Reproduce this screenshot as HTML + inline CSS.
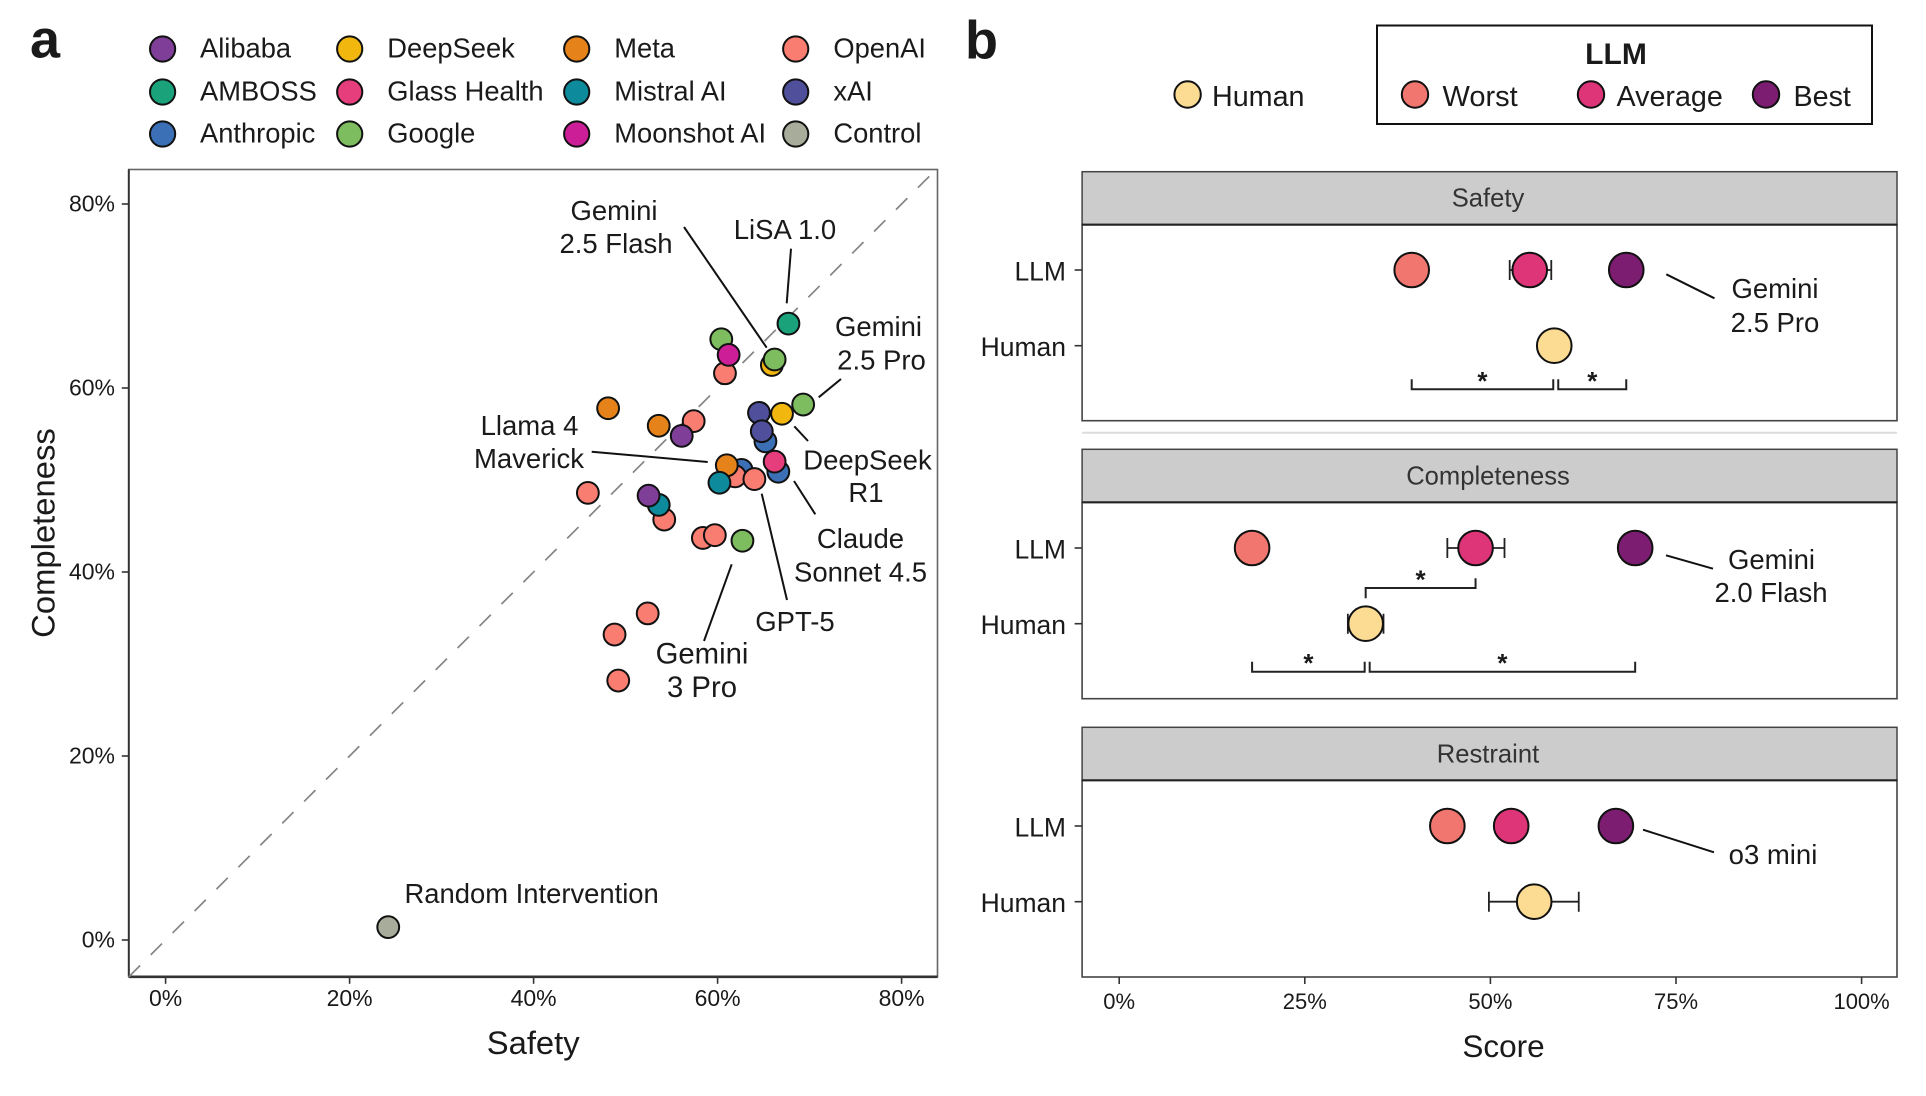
<!DOCTYPE html>
<html lang="en">
<head>
<meta charset="utf-8">
<title>LLM safety and completeness scatter with score comparison</title>
<style>
  html, body { margin: 0; padding: 0; background: #fff; }
  svg { display: block; }
  text { font-family: "Liberation Sans", Arial, sans-serif; fill: #1a1a1a; }
  .lab { font-size: 27.5px; text-anchor: middle; }
  .leg { font-size: 27.3px; }
  .leader { stroke: #111; stroke-width: 2; fill: none; }
</style>
</head>
<body>
<svg id="fig" xmlns="http://www.w3.org/2000/svg" width="1926" height="1096" viewBox="0 0 1926 1096">
  <rect x="0" y="0" width="1926" height="1096" fill="#fff"/>
  <text x="30" y="57.5" font-size="54" font-weight="700">a</text>
  <text x="965" y="58.5" font-size="54" font-weight="700">b</text>

  <g id="legend-a"></g>

  <g id="panel-a"></g>

  <g>
    <line class="leader" x1="684" y1="227" x2="766.7" y2="347.7"/>
    <line class="leader" x1="791" y1="248.7" x2="786.7" y2="303.3"/>
    <line class="leader" x1="841" y1="379" x2="818.7" y2="397.3"/>
    <line class="leader" x1="794.3" y1="426.3" x2="808" y2="441"/>
    <line class="leader" x1="591.7" y1="451.7" x2="707.7" y2="462"/>
    <line class="leader" x1="761.7" y1="493.7" x2="787" y2="600"/>
    <line class="leader" x1="794" y1="481" x2="815.3" y2="514.3"/>
    <line class="leader" x1="731.7" y1="564.3" x2="704" y2="641"/>
    <text class="lab"><tspan x="614" y="220">Gemini</tspan><tspan x="616" y="253">2.5 Flash</tspan></text>
    <text class="lab" x="785" y="239">LiSA 1.0</text>
    <text class="lab"><tspan x="878.5" y="336">Gemini</tspan><tspan x="881.5" y="369.5">2.5 Pro</tspan></text>
    <text class="lab"><tspan x="867.5" y="469.5">DeepSeek</tspan><tspan x="866" y="502">R1</tspan></text>
    <text class="lab"><tspan x="529.5" y="435">Llama 4</tspan><tspan x="529" y="468">Maverick</tspan></text>
    <text class="lab"><tspan x="860.5" y="548">Claude</tspan><tspan x="860.5" y="581.5">Sonnet 4.5</tspan></text>
    <text class="lab" x="795" y="631">GPT-5</text>
    <text class="lab" style="font-size:29.3px"><tspan x="702" y="663.5">Gemini</tspan><tspan x="702" y="697">3 Pro</tspan></text>
    <text class="lab" style="text-anchor:start;font-size:27.4px" x="404.5" y="903">Random Intervention</text>
  </g>

  <g id="legend-b">
    <rect x="1377" y="25.5" width="495" height="98.5" fill="#fff" stroke="#111" stroke-width="2"/>
    <text x="1616" y="64" font-size="30" font-weight="700" text-anchor="middle">LLM</text>
    <circle cx="1187.6" cy="94.5" r="13.2" fill="#fcdb93" stroke="#111" stroke-width="2"/>
    <text x="1212" y="106" font-size="28.7">Human</text>
    <circle cx="1415" cy="94.5" r="13.2" fill="#f1766f" stroke="#111" stroke-width="2"/>
    <text x="1442.5" y="106" font-size="29">Worst</text>
    <circle cx="1591" cy="94.5" r="13.2" fill="#dd3578" stroke="#111" stroke-width="2"/>
    <text x="1616.5" y="106" font-size="28.7">Average</text>
    <circle cx="1766" cy="94.5" r="13.2" fill="#7d1d71" stroke="#111" stroke-width="2"/>
    <text x="1793.5" y="106" font-size="28.7">Best</text>
  </g>

  <g id="panel-b"></g>

  <g>
    <line class="leader" x1="1666.3" y1="274.3" x2="1714.5" y2="298.3"/>
    <text class="lab"><tspan x="1775" y="298">Gemini</tspan><tspan x="1775" y="332">2.5 Pro</tspan></text>
    <line class="leader" x1="1666" y1="555.3" x2="1713" y2="568.7"/>
    <text class="lab"><tspan x="1771.5" y="569">Gemini</tspan><tspan x="1771" y="602">2.0 Flash</tspan></text>
    <line class="leader" x1="1643" y1="829.7" x2="1714" y2="852.3"/>
    <text class="lab" x="1773" y="864">o3 mini</text>
  </g>
</svg>

<script>
// Panel a data
const legendCompanies = ['Alibaba','AMBOSS','Anthropic','DeepSeek','Glass Health','Google','Meta','Mistral AI','Moonshot AI','OpenAI','xAI','Control'];
const legendColors = ['#7f3f98','#1aa37a','#3b6fb6','#f2b70f','#e63e7c','#7ebd5f','#e5831a','#0d8a9c','#cc1f97','#fa7d72','#4f4f9b','#a8ad9b'];
const scatterXTicks = [0, 20, 40, 60, 80];
const scatterYTicks = [0, 20, 40, 60, 80];
const pointCompany = ['Google','OpenAI','Moonshot AI','AMBOSS','DeepSeek','Meta','Google','Meta','OpenAI','Alibaba','xAI','DeepSeek','Google','Anthropic','xAI','Anthropic','Glass Health','Anthropic','OpenAI','Meta','OpenAI','Mistral AI','OpenAI','OpenAI','Mistral AI','Alibaba','OpenAI','OpenAI','Google','OpenAI','OpenAI','OpenAI','Control'];
const pointSafety = [60.4,60.8,61.2,67.7,65.9,48.1,66.2,53.6,57.4,56.1,64.5,67.0,69.3,65.2,64.8,66.6,66.2,62.6,61.9,61.0,64.0,60.2,45.9,54.2,53.6,52.5,58.4,59.7,62.7,52.4,48.8,49.2,24.2];
const pointCompleteness = [65.3,61.6,63.6,67.0,62.5,57.8,63.1,55.9,56.4,54.8,57.3,57.2,58.2,54.2,55.3,50.9,52.0,51.1,50.4,51.6,50.1,49.7,48.6,45.7,47.3,48.3,43.7,44.0,43.4,35.5,33.2,28.2,1.4];

// Panel b data
const facetNames = ['Safety','Completeness','Restraint'];
const scoreTicks = [0, 25, 50, 75, 100];
const rowLabels = ['LLM','Human'];
const worstScores = [39.4, 17.9, 44.2];
const averageScores = [55.3, 48.0, 52.8];
const bestScores = [68.3, 69.5, 66.9];
const humanScores = [58.6, 33.2, 55.9];
const averageLow = [52.6, 44.2, 52.8];
const averageHigh = [58.2, 51.9, 52.8];
const humanLow = [58.6, 30.8, 49.8];
const humanHigh = [58.6, 35.6, 61.9];
const safetyComparisons = ['worst-human','human-best'];
const completenessComparisons = ['worst-human','human-best','human-average'];
const restraintComparisons = [];

// Axis functions
function xA(v) { return 165.6 + 9.2 * v; }
function yA(v) { return 940 - 9.2 * v; }
function xB(v) { return 1119.2 + 7.424 * v; }

const NS = 'http://www.w3.org/2000/svg';
function el(parent, tag, attrs, txt) {
  const n = document.createElementNS(NS, tag);
  for (const k in attrs) n.setAttribute(k, attrs[k]);
  if (txt !== undefined) n.textContent = txt;
  parent.appendChild(n);
  return n;
}
const slug = s => s.toLowerCase().replace(/[^a-z0-9]+/g, '-');
const colorOf = c => legendColors[legendCompanies.indexOf(c)];

// Company legend
const legendA = document.getElementById('legend-a');
const legendColX = [162.6, 349.7, 576.7, 795.7];
const legendTextX = [200, 387.3, 614.3, 833.4];
const legendRowY = [49, 92, 134];
const legendLayout = ['Alibaba','AMBOSS','Anthropic','DeepSeek','Glass Health','Google','Meta','Mistral AI','Moonshot AI','OpenAI','xAI','Control'];
legendLayout.forEach((name, i) => {
  const col = Math.floor(i / 3), row = i % 3;
  const sw = el(legendA, 'circle', {cx: legendColX[col], cy: legendRowY[row], r: 12.6, fill: colorOf(name), stroke: '#111', 'stroke-width': 2});
  
  
  const t = el(legendA, 'text', {x: legendTextX[col], y: legendRowY[row] + 8.7, class: 'leg'}, name);
  
  
});

// Scatter panel
const pa = document.getElementById('panel-a');
const plotA = {l: xA(-4), r: 937.5, t: 169.5, b: yA(-4)};
const frameA = el(pa, 'rect', {x: plotA.l, y: plotA.t, width: plotA.r - plotA.l, height: plotA.b - plotA.t, fill: '#fff', stroke: '#666', 'stroke-width': 1.6});


const leftAxisA = el(pa, 'line', {x1: plotA.l, y1: plotA.t, x2: plotA.l, y2: plotA.b, stroke: '#333', 'stroke-width': 2});


const bottomAxisA = el(pa, 'line', {x1: plotA.l, y1: plotA.b, x2: plotA.r, y2: plotA.b, stroke: '#333', 'stroke-width': 2.6});


const diag = el(pa, 'line', {x1: xA(-4), y1: yA(-4), x2: xA(83.8), y2: yA(83.8), stroke: '#858585', 'stroke-width': 1.7, 'stroke-dasharray': '16 15'});


scatterXTicks.forEach(v => {
  const tk = el(pa, 'line', {x1: xA(v), y1: plotA.b, x2: xA(v), y2: plotA.b + 7, stroke: '#333', 'stroke-width': 1.6});
  
  
  const t = el(pa, 'text', {x: xA(v), y: 1006.2, 'font-size': 23, 'text-anchor': 'middle'}, v + '%');
  
  
});
scatterYTicks.forEach(v => {
  const tk = el(pa, 'line', {x1: plotA.l - 7, y1: yA(v), x2: plotA.l, y2: yA(v), stroke: '#333', 'stroke-width': 1.6});
  
  
  const t = el(pa, 'text', {x: 115, y: yA(v) + 7.5, 'font-size': 23, 'text-anchor': 'end'}, v + '%');
  
  
});
const xTitleA = el(pa, 'text', {x: 533.2, y: 1054, 'font-size': 32.8, 'text-anchor': 'middle'}, 'Safety');


const yTitleA = el(pa, 'text', {x: 0, y: 0, 'font-size': 32.8, 'text-anchor': 'middle', transform: 'translate(54.5,533) rotate(-90)'}, 'Completeness');


pointCompany.forEach((c, i) => {
  const p = el(pa, 'circle', {cx: xA(pointSafety[i]), cy: yA(pointCompleteness[i]), r: 10.9, fill: colorOf(c), stroke: '#111', 'stroke-width': 2});
  
  
});

// Score panels
const pb = document.getElementById('panel-b');
const plotB = {l: 1082.1, r: 1897};
const stripTop = [171.7, 449.3, 727.3];
const stripH = 53;
const plotBottom = [420.7, 698.7, 977];
const llmRowY = [270, 548, 826];
const humanRowY = [345.7, 623.7, 901.7];
const lowerBracketOffset = [43.6, 48, 48];
const starSize = 26;

function bracket(parent, x1, x2, yH, y1End, y2End, name) {
  const d = 'M' + x1 + ' ' + y1End + ' L' + x1 + ' ' + yH + ' L' + x2 + ' ' + yH + ' L' + x2 + ' ' + y2End;
  const path = el(parent, 'path', {d: d, fill: 'none', stroke: '#222', 'stroke-width': 2});
  
  
  const s = el(parent, 'text', {x: (x1 + x2) / 2, y: yH + 0.5, 'font-size': starSize, 'font-weight': 700, 'text-anchor': 'middle'}, '*');
  
  
}

facetNames.forEach((f, i) => {
  const g = el(pb, 'g', {});
  
  
  const top = stripTop[i], bot = plotBottom[i];
  const strip = el(g, 'rect', {x: plotB.l, y: top, width: plotB.r - plotB.l, height: stripH, fill: '#cccccc', stroke: '#444', 'stroke-width': 1.5});
  
  
  const st = el(g, 'text', {x: 1488, y: top + 35, 'font-size': 25.6, 'text-anchor': 'middle', style: 'fill:#333'}, f);
  
  
  const box = el(g, 'rect', {x: plotB.l, y: top + stripH, width: plotB.r - plotB.l, height: bot - top - stripH, fill: '#fff', stroke: '#444', 'stroke-width': 1.6});
  
  
  const lineTop = el(g, 'line', {x1: plotB.l, y1: top + stripH, x2: plotB.r, y2: top + stripH, stroke: '#222', 'stroke-width': 2.2});
  
  

  [llmRowY[i], humanRowY[i]].forEach((y, r) => {
    const tk = el(g, 'line', {x1: plotB.l - 7.5, y1: y, x2: plotB.l, y2: y, stroke: '#333', 'stroke-width': 1.6});
    
    
    const t = el(g, 'text', {x: 1066, y: y + 10.5, 'font-size': 26.5, 'text-anchor': 'end'}, rowLabels[r]);
    
    
  });

  function errorBar(lo, hi, y, name) {
    if (lo === hi) return;
    const e = el(g, 'path', {d: 'M' + xB(lo) + ' ' + (y - 10) + ' V' + (y + 10) + ' M' + xB(lo) + ' ' + y + ' H' + xB(hi) + ' M' + xB(hi) + ' ' + (y - 10) + ' V' + (y + 10), fill: 'none', stroke: '#222', 'stroke-width': 1.8});
    
    
  }
  errorBar(averageLow[i], averageHigh[i], llmRowY[i], 'average');
  errorBar(humanLow[i], humanHigh[i], humanRowY[i], 'human');

  const dots = [
    ['worst', worstScores[i], llmRowY[i], '#f1766f'],
    ['average', averageScores[i], llmRowY[i], '#dd3578'],
    ['best', bestScores[i], llmRowY[i], '#7d1d71'],
    ['human', humanScores[i], humanRowY[i], '#fcdb93']
  ];
  dots.forEach(d => {
    const c = el(g, 'circle', {cx: xB(d[1]), cy: d[2], r: 17.3, fill: d[3], stroke: '#111', 'stroke-width': 2});
    
    
  });

  const bx = {worst: xB(worstScores[i]), average: xB(averageScores[i]), best: xB(bestScores[i]), human: xB(humanScores[i])};
  const comps = [safetyComparisons, completenessComparisons, restraintComparisons][i];
  const yH = humanRowY[i] + lowerBracketOffset[i];
  comps.forEach(cmp => {
    if (cmp === 'worst-human') {
      bracket(g, bx.worst, bx.human - (bx.human > bx.worst ? 1 : 0), yH, yH - 10, yH - 10, slug(f) + '-worst-human');
    } else if (cmp === 'human-best') {
      bracket(g, bx.human + 4, bx.best, yH, yH - 10, yH - 10, slug(f) + '-human-best');
    } else if (cmp === 'human-average') {
      const y = humanRowY[i] - 35.7;
      bracket(g, bx.human, bx.average, y, y + 10.3, y - 9.7, slug(f) + '-human-average');
    }
  });
});

const sep = el(pb, 'line', {x1: plotB.l, y1: 432.7, x2: plotB.r, y2: 432.7, stroke: '#dcdcdc', 'stroke-width': 2});


scoreTicks.forEach(v => {
  const tk = el(pb, 'line', {x1: xB(v), y1: 977, x2: xB(v), y2: 984, stroke: '#333', 'stroke-width': 1.6});
  
  
  const t = el(pb, 'text', {x: xB(v), y: 1009, 'font-size': 22, 'text-anchor': 'middle'}, v + '%');
  
  
});
const xTitleB = el(pb, 'text', {x: 1503.5, y: 1057, 'font-size': 31.5, 'text-anchor': 'middle'}, 'Score');


</script>
</body>
</html>
